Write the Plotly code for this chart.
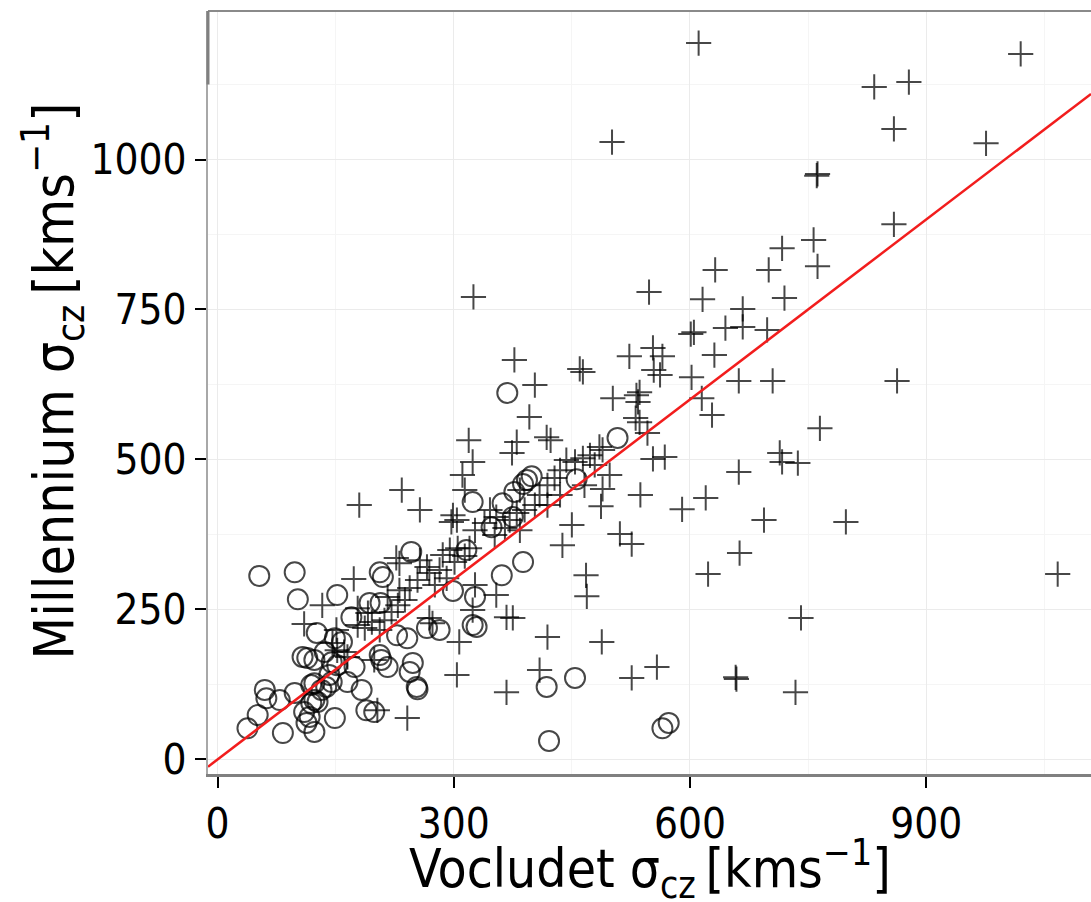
import plotly.graph_objects as go

# ---- data ----
cross_x = [611, 1020, 834, 878, 859, 976, 501, 762, 761, 859, 757, 717, 762, 700, 632, 325, 548, 616, 720, 667,
           645, 667, 698, 601, 605, 553, 565, 523, 460, 464, 631, 554, 562, 602, 662, 705, 863, 377, 403, 536,
           532, 534, 502, 615, 628, 396, 531, 536, 765, 546, 418, 423, 319, 380, 374, 324, 485, 489, 443, 464,
           553, 568, 714, 717, 737, 662, 498, 489, 537, 487, 620, 590, 694, 798, 1067, 450, 511, 526, 438, 663,
           623, 468, 469, 741, 488, 558, 526, 658, 659, 734, 180, 234, 257, 311, 314, 299, 297, 304, 346, 354,
           371, 380, 384, 419, 409, 304, 367, 241, 307, 324, 367, 375, 327, 354, 269, 273, 173, 227, 231, 133,
           110, 151, 178, 191, 146, 152, 161, 165, 199, 203, 257, 266, 269, 231, 244, 286, 295, 305, 314, 320,
           301, 178, 187, 196, 206, 212, 221, 229, 238, 327, 339, 352, 365, 390, 403, 409, 419, 428, 435, 454,
           473, 479, 466, 435, 419, 384, 282, 291, 276, 254, 216]
cross_y = [1194, 1176, 1121, 1129, 1051, 1027, 1029, 976, 973, 892, 866, 852, 822, 816, 816, 771, 779, 767, 769, 751,
           719, 721, 716, 709, 712, 686, 672, 672, 651, 646, 674, 649, 641, 637, 631, 631, 631, 666, 624, 612,
           607, 596, 602, 602, 574, 571, 569, 562, 552, 544, 537, 532, 532, 529, 511, 496, 521, 516, 499, 502,
           501, 504, 511, 496, 494, 479, 474, 451, 441, 422, 436, 417, 399, 396, 309, 391, 376, 359, 357, 344,
           309, 307, 272, 236, 196, 154, 136, 137, 134, 112, 424, 449, 416, 474, 449, 407, 396, 399, 416, 404,
           399, 411, 382, 204, 149, 141, 112, 69, 196, 249, 237, 236, 291, 274, 236, 227, 301, 336, 327, 257,
           226, 216, 252, 244, 194, 182, 179, 171, 166, 82, 332, 321, 311, 282, 286, 341, 349, 352, 339, 352,
           329, 224, 219, 229, 216, 232, 246, 257, 266, 382, 394, 374, 386, 416, 424, 441, 457, 469, 482, 496,
           507, 491, 457, 441, 424, 449, 316, 302, 291, 299, 271]

circle_x = [368, 508, 456, 399, 393, 388, 377, 362, 324, 348, 375, 316, 246, 388, 361, 299, 327, 324, 329, 266,
            282, 248, 244, 253, 254, 418, 454, 421, 565, 573, 53, 98, 102, 152, 206, 210, 126, 193, 170, 149,
            158, 228, 241, 108, 114, 123, 136, 145, 152, 174, 206, 208, 216, 60, 62, 79, 98, 119, 123, 138,
            145, 165, 183, 123, 119, 127, 110, 117, 113, 123, 51, 38, 83, 149, 189, 199, 132, 142, 207]
circle_y = [611, 536, 467, 472, 466, 459, 446, 427, 429, 387, 404, 349, 346, 329, 307, 281, 271, 224, 221, 219,
            216, 161, 146, 121, 117, 121, 136, 31, 52, 61, 306, 312, 267, 274, 312, 304, 211, 261, 237, 202,
            196, 207, 202, 171, 169, 166, 179, 162, 157, 154, 174, 166, 154, 116, 102, 99, 111, 124, 127, 121,
            129, 129, 116, 99, 94, 96, 79, 71, 61, 46, 74, 52, 44, 69, 82, 79, 116, 141, 261]

x_ticks = [0, 300, 600, 900]
y_ticks = [0, 250, 500, 750, 1000]
x_minor = [150, 450, 750, 1050]
y_minor = [125, 375, 625, 875, 1125]
x_range = [-12.1, 1109.3]
y_range = [-24.2, 1247.5]
line_slope = 1.0
line_intercept = 0.0
x_title = "Vocludet σ<sub>cz</sub>\u2009[kms<sup>−1</sup>]"
y_title = "Millennium σ<sub>cz</sub>\u2009[kms<sup>−1</sup>]"

FONT = "Liberation Sans Narrow, Arial Narrow, DejaVu Sans Condensed, Liberation Sans, sans-serif"
INK = "rgba(0,0,0,0.72)"

fig = go.Figure()
fig.add_trace(go.Scatter(
    x=cross_x, y=cross_y, mode="markers", showlegend=False,
    marker=dict(symbol="cross-thin-open", size=18, color=INK, line=dict(width=2, color=INK)),
))
fig.add_trace(go.Scatter(
    x=circle_x, y=circle_y, mode="markers", showlegend=False,
    marker=dict(symbol="circle-open", size=20, color=INK, line=dict(width=2, color=INK)),
))
lx = [x_range[0], x_range[1]]
ly = [line_slope * v + line_intercept for v in lx]
fig.add_trace(go.Scatter(x=lx, y=ly, mode="lines", showlegend=False,
                         line=dict(color="#f21d1d", width=2.5)))

axis_common = dict(
    ticks="outside", ticklen=11, tickwidth=2, tickcolor="black",
    showline=True, zeroline=False, automargin=False,
    gridcolor="#ebebeb", gridwidth=1,
    tickfont=dict(family=FONT, size=42, color="black"),
)

fig.update_layout(
    width=1091, height=902,
    margin=dict(l=208, r=0, t=11, b=128, autoexpand=False),
    plot_bgcolor="white", paper_bgcolor="white",
    font=dict(family=FONT, color="black"),
    xaxis=dict(
        range=x_range, tickvals=x_ticks, linecolor="#808080", linewidth=3,
        minor=dict(tickvals=x_minor, showgrid=True, gridcolor="#f5f5f5", ticks=""),
        **axis_common,
    ),
    yaxis=dict(
        range=y_range, tickvals=y_ticks, linecolor="#a8a8a8", linewidth=2,
        minor=dict(tickvals=y_minor, showgrid=True, gridcolor="#f5f5f5", ticks=""),
        **axis_common,
    ),
    annotations=[
        dict(text=x_title, xref="paper", yref="paper", x=0.5, y=-0.124,
             xanchor="center", yanchor="middle", showarrow=False,
             font=dict(family=FONT, size=53, color="black")),
        dict(text=y_title, xref="paper", yref="paper", x=-0.175, y=0.515,
             xanchor="center", yanchor="middle", showarrow=False, textangle=-90,
             font=dict(family=FONT, size=55, color="black")),
    ],
    shapes=[
        dict(type="line", xref="paper", yref="paper", x0=0, x1=1, y0=1, y1=1,
             line=dict(color="#8a8a8a", width=2)),
        dict(type="line", xref="paper", yref="y", x0=0, x1=0, y0=y_minor[-1], y1=y_range[1],
             line=dict(color="#808080", width=3)),
    ],
)

# remove the default 8px page margin so the figure fills the 1091x902 window exactly
fig.write_html(
    "out.html",
    config={"displayModeBar": False},
    post_script="document.body.style.margin='0';document.body.style.overflow='hidden';",
)
